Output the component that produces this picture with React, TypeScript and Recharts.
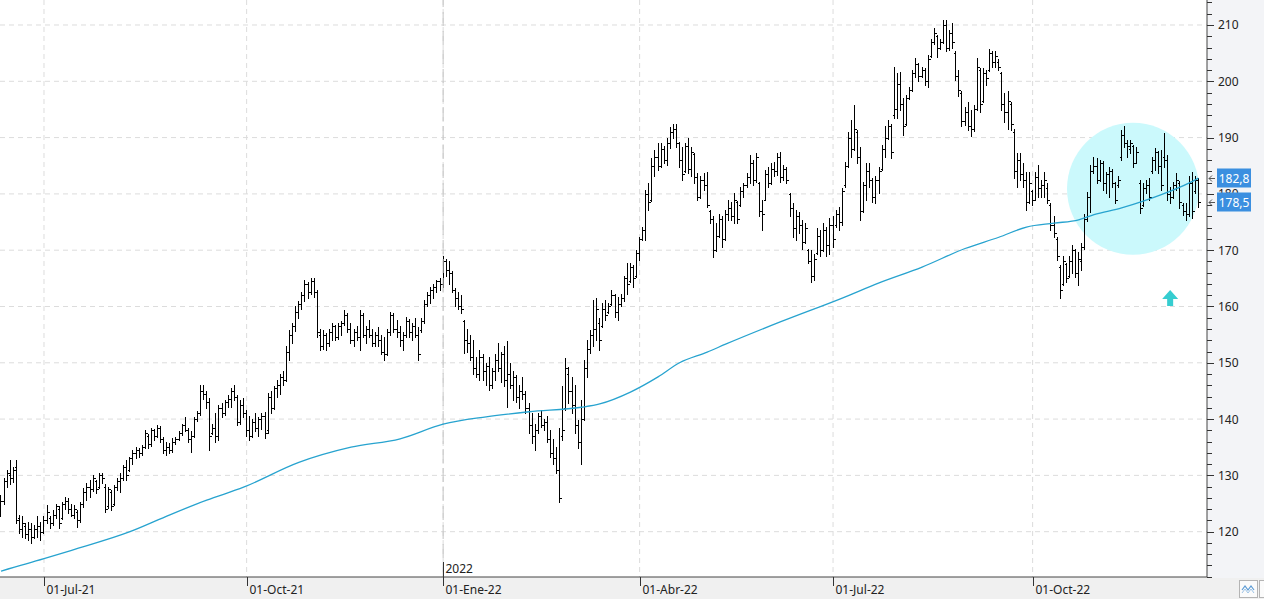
import React from "react";
import {
  ComposedChart,
  Bar,
  Line,
  XAxis,
  YAxis,
  CartesianGrid,
  ReferenceLine,
  ReferenceDot,
} from "recharts";

// daily OHLC, one value per trading day (Jun-2021 .. Dec-2022)
const opens = [
  123.5,125.5,129.0,130.0,129.5,131.5,122.5,120.5,121.0,119.5,
  120.5,119.0,120.5,121.0,120.0,122.0,122.5,121.5,123.0,124.0,
  122.5,125.0,125.5,124.0,123.0,123.5,122.0,125.0,127.0,128.0,
  127.5,129.0,128.0,130.0,128.0,124.5,127.0,125.0,128.0,129.0,
  129.5,131.5,131.0,133.0,134.0,134.5,134.0,135.0,137.0,135.5,
  138.0,137.0,138.5,136.5,134.5,135.0,134.5,136.0,136.5,137.5,
  139.0,138.0,136.5,137.0,140.0,141.0,145.0,144.5,143.0,137.5,
  138.5,137.0,142.0,141.0,143.0,143.5,145.0,144.0,139.5,142.5,
  141.0,138.0,137.0,139.5,138.5,140.0,140.5,138.0,144.0,142.0,
  145.5,146.0,147.5,147.0,152.0,155.0,156.5,159.0,160.5,162.0,
  164.0,162.5,164.5,162.5,155.0,153.0,155.0,153.5,155.5,156.5,
  154.5,156.5,157.0,158.5,156.0,154.0,155.5,154.5,158.5,155.0,
  156.0,155.0,153.5,155.0,154.0,152.0,151.5,155.5,158.5,156.0,
  155.5,154.0,155.0,157.5,155.5,156.5,155.0,155.8,157.5,160.5,
  162.0,163.0,163.5,164.5,164.0,168.0,166.5,166.0,163.0,161.5,
  160.0,157.5,154.0,153.5,151.0,149.0,148.0,151.0,148.5,149.5,
  146.0,148.5,150.5,149.0,151.5,147.0,148.0,146.0,147.5,144.0,
  145.0,144.5,142.0,139.0,137.0,138.0,140.5,139.0,139.5,136.5,
  134.0,133.0,131.0,137.0,142.0,148.0,145.0,142.5,139.0,136.0,
  140.0,149.0,152.5,155.0,156.0,157.0,156.5,159.5,159.0,160.5,
  162.0,159.0,160.5,161.5,165.0,164.5,167.0,165.5,169.5,172.0,
  173.5,180.0,179.0,185.0,186.5,185.0,188.0,186.0,189.0,191.0,
  191.5,189.0,186.0,184.0,188.5,184.5,187.0,183.0,179.5,182.5,
  181.5,177.0,175.5,170.0,172.5,175.5,172.0,176.5,177.5,176.0,
  178.5,178.0,180.5,181.5,183.0,185.5,182.5,182.0,177.0,179.0,
  183.5,182.0,184.5,184.0,186.5,183.0,184.5,180.0,177.5,174.0,
  176.0,174.5,171.5,170.0,168.0,165.5,169.5,172.5,170.0,173.5,
  171.0,174.5,174.5,176.5,175.0,181.5,185.0,190.0,188.0,191.0,
  186.5,177.0,181.5,184.0,182.5,179.5,182.5,184.5,188.0,190.0,
  192.0,194.0,195.0,199.5,196.0,192.5,197.0,198.5,201.5,203.0,
  201.0,202.0,200.0,204.5,207.0,208.0,206.0,207.0,210.0,206.0,
  208.5,205.0,201.0,198.0,193.0,194.5,192.0,191.5,195.0,202.0,
  196.5,201.5,202.0,205.0,203.5,203.5,201.5,196.0,194.5,196.0,
  191.0,184.0,186.0,183.5,182.5,178.5,180.5,179.0,183.0,181.0,
  181.5,181.0,178.0,174.5,172.0,167.0,164.0,167.5,165.5,168.0,
  170.0,166.0,168.0,170.5,175.5,179.5,184.0,185.0,182.5,185.5,
  182.0,183.5,184.0,182.0,181.5,186.5,190.5,189.0,188.0,188.5,
  185.5,182.0,178.0,181.0,181.5,184.0,186.0,187.5,185.0,186.5,
  186.0,180.0,179.5,181.5,182.0,178.0,177.0,176.5,182.0,180.5,
  182.5,
];

const highs = [
  126.5,129.5,131.0,132.7,131.5,132.7,123.0,122.7,121.5,121.8,
  121.5,121.2,122.7,121.8,122.7,124.7,122.7,123.8,125.0,124.5,
  125.3,126.2,126.0,125.0,124.7,123.8,125.3,127.7,128.6,129.2,
  130.1,129.2,130.4,130.4,128.5,128.0,127.4,128.3,129.5,130.4,
  131.8,132.7,133.3,134.5,135.1,134.8,135.4,138.1,137.4,138.4,
  138.3,139.0,138.8,136.8,136.0,135.7,136.6,136.9,137.8,139.2,
  140.4,138.4,137.8,140.4,141.5,146.0,146.0,144.9,143.7,139.2,
  141.0,142.5,142.8,143.4,144.3,145.5,146.0,144.3,143.4,143.7,
  141.6,140.5,140.0,141.0,140.4,141.0,141.2,144.6,145.0,145.8,
  147.0,148.0,148.5,152.9,155.8,157.0,160.0,161.0,162.5,164.7,
  164.3,165.0,165.0,163.0,156.0,155.8,155.3,156.0,157.0,156.8,
  157.0,157.5,159.4,158.8,157.0,156.0,156.5,159.4,158.8,156.5,
  157.6,156.0,155.5,156.4,155.0,154.5,156.0,159.1,158.8,157.6,
  156.5,155.5,158.2,157.8,157.0,158.0,156.4,158.0,161.2,162.5,
  163.5,164.0,164.7,165.0,168.9,168.5,168.0,166.3,163.3,162.5,
  162.0,157.6,156.0,155.0,154.0,151.0,152.3,151.5,150.0,151.0,
  149.0,151.5,153.5,152.0,153.0,153.8,150.0,148.5,147.8,146.0,
  147.5,145.0,142.8,141.0,139.2,141.0,141.6,140.0,140.5,138.0,
  136.5,135.1,138.4,145.8,150.8,149.3,147.5,146.0,139.8,143.4,
  150.5,154.0,155.8,161.2,161.5,158.0,160.6,161.2,160.6,162.9,
  162.3,161.7,162.3,165.5,167.7,167.7,167.3,170.0,172.4,174.2,
  180.7,181.9,186.3,187.8,189.0,189.0,188.5,189.9,191.9,192.5,
  192.5,189.3,188.4,189.0,189.9,188.4,187.3,183.7,183.1,183.7,
  183.9,177.1,176.0,174.8,176.5,176.0,177.1,178.9,178.6,180.1,
  178.8,181.3,181.9,183.7,186.9,186.0,187.2,182.2,178.9,184.2,
  184.8,185.4,185.7,187.2,187.5,185.1,184.8,180.1,178.3,177.1,
  176.8,175.4,174.8,170.3,170.0,169.4,173.9,173.6,174.8,174.2,
  175.7,176.0,177.1,177.7,181.0,185.7,191.0,193.1,195.8,191.4,
  188.4,182.2,185.4,185.4,182.8,183.1,184.8,188.7,192.0,193.1,
  192.5,202.6,201.4,201.7,197.0,197.6,199.0,202.0,204.1,203.2,
  202.6,202.3,204.7,207.6,209.4,208.2,207.6,210.9,210.9,209.1,
  210.4,205.3,202.0,198.2,195.5,196.4,194.9,195.8,204.1,202.3,
  202.3,202.0,205.7,205.3,205.3,204.0,201.7,197.9,198.2,196.4,
  191.6,187.2,187.2,185.4,183.9,183.9,180.7,183.9,185.1,182.5,
  183.9,181.9,178.3,176.0,172.4,167.4,168.9,167.7,168.9,171.0,
  170.3,169.7,171.2,176.5,180.4,185.1,186.6,186.3,186.0,185.8,
  183.9,184.8,184.5,182.2,183.1,191.4,192.1,189.6,189.6,188.7,
  188.4,182.5,181.9,182.5,182.8,186.6,188.1,187.6,187.8,190.8,
  186.9,181.3,182.2,183.7,182.3,178.3,178.3,183.1,183.9,183.1,
  182.8,
];

const lows = [
  122.8,125.0,128.0,128.5,128.8,121.5,119.7,119.1,118.8,118.5,
  118.0,118.8,119.1,118.5,119.7,121.5,120.6,121.2,122.4,120.6,
  122.2,124.0,123.3,122.7,122.4,120.9,121.8,124.4,125.6,126.2,
  127.2,126.8,127.7,128.6,123.5,124.2,123.8,124.8,127.4,127.1,
  129.2,129.2,130.8,132.1,133.0,133.3,133.6,134.8,134.8,135.2,
  136.3,136.9,136.0,133.9,133.6,133.9,134.2,135.5,136.3,137.2,
  137.8,136.0,134.2,136.9,139.6,140.8,143.5,142.0,134.5,137.3,
  136.0,136.3,140.4,140.8,142.2,142.2,143.4,139.0,139.2,140.4,
  137.0,136.3,136.8,137.8,137.0,138.3,136.6,137.6,141.0,141.8,
  144.0,144.5,146.0,146.7,150.5,153.5,155.6,158.0,159.6,161.0,
  161.5,162.3,161.7,154.6,152.3,152.5,152.3,153.0,154.0,154.0,
  154.2,155.0,156.8,155.5,153.5,152.9,154.0,152.3,154.5,153.5,
  154.5,152.9,153.0,153.0,151.5,150.5,151.3,155.0,155.5,154.6,
  153.0,152.3,154.5,154.5,154.0,154.5,150.5,155.5,157.0,160.0,
  160.6,161.5,162.5,163.0,163.5,165.5,164.0,162.5,160.0,159.5,
  158.8,151.7,152.0,150.5,148.0,147.5,147.0,147.0,146.0,145.2,
  145.5,147.0,148.5,146.5,145.8,142.2,145.5,143.4,143.0,142.0,
  143.5,141.0,137.5,135.7,134.5,137.5,138.6,138.0,136.0,133.3,
  132.0,130.4,125.3,136.3,141.6,142.8,141.0,137.5,134.8,132.1,
  139.8,147.5,151.7,152.9,154.0,152.3,156.4,157.6,158.8,160.3,
  158.2,157.6,160.0,161.0,162.3,164.3,163.5,165.3,168.3,171.8,
  171.8,177.1,178.8,183.1,184.2,184.8,185.5,185.1,188.1,189.9,
  188.4,184.8,182.5,183.8,183.7,183.1,182.0,178.9,179.3,180.7,
  177.7,174.8,168.8,169.8,172.3,170.6,171.8,175.4,175.4,174.8,
  174.8,177.8,179.5,181.3,181.9,181.6,182.2,176.0,173.6,178.9,
  181.3,181.8,183.1,183.4,182.2,182.5,181.9,176.0,172.4,171.8,
  173.0,170.3,171.3,167.7,164.4,164.7,169.4,168.9,169.8,168.9,
  169.4,170.6,174.2,173.6,174.5,181.3,184.8,186.6,187.8,185.4,
  175.4,176.8,178.9,181.3,178.6,178.3,180.1,184.3,186.6,189.8,
  186.3,193.4,193.4,194.9,190.5,192.3,196.8,198.3,200.8,200.0,
  200.8,199.3,199.0,204.3,206.7,204.4,205.8,206.8,205.3,205.6,
  206.0,200.2,197.3,192.0,192.2,191.4,190.2,191.2,194.9,194.6,
  196.4,199.3,201.8,202.6,202.6,202.0,194.9,192.8,191.6,191.4,
  182.8,181.3,182.5,181.3,177.1,178.3,178.0,178.9,179.5,179.5,
  179.5,178.3,173.6,172.4,168.3,161.5,163.8,164.4,165.3,165.9,
  165.3,163.8,166.5,170.3,175.1,176.8,183.7,181.9,182.3,180.7,
  180.1,179.5,181.3,178.3,181.3,186.0,188.4,186.6,187.2,184.8,
  185.4,176.6,177.8,180.1,178.9,183.7,184.2,183.7,180.7,184.8,
  178.9,178.3,179.3,180.7,177.5,176.2,175.4,176.0,175.7,180.1,
  177.7,
];

const closes = [
  125.5,129.0,130.5,129.5,131.0,122.0,120.5,121.5,119.5,120.5,
  119.0,120.5,121.0,120.0,122.0,123.5,121.5,123.0,124.5,121.5,
  125.0,125.5,124.0,123.0,124.0,122.0,125.0,127.0,128.0,127.5,
  129.5,127.5,130.0,129.5,124.0,127.5,124.5,128.0,129.0,129.5,
  131.5,130.0,133.0,134.0,134.5,134.0,135.0,137.5,135.5,138.0,
  137.0,138.5,136.5,134.5,135.0,134.5,136.0,136.5,137.5,139.0,
  138.0,136.5,137.0,140.0,141.0,145.0,144.5,143.0,137.0,138.5,
  137.0,142.0,141.0,143.0,143.5,145.0,144.0,139.5,142.5,141.0,
  138.0,137.0,139.5,138.5,140.0,140.5,137.5,144.0,142.0,145.5,
  146.0,147.5,147.0,152.0,155.0,156.5,159.0,160.5,162.0,164.0,
  162.5,164.5,162.5,155.5,153.0,155.0,153.5,155.5,156.5,154.5,
  156.5,157.0,158.5,156.0,154.0,155.5,154.5,158.5,155.0,156.0,
  155.0,153.5,155.0,154.0,152.0,151.5,155.5,158.5,156.0,155.5,
  154.0,155.0,157.5,155.5,156.5,155.0,151.5,157.5,160.5,162.0,
  163.0,163.5,164.5,164.0,168.0,166.5,166.0,163.0,161.5,160.0,
  159.5,154.0,153.5,151.0,149.0,148.0,151.0,148.5,149.5,146.0,
  148.5,150.5,149.0,151.5,147.0,148.0,146.0,147.5,144.0,145.0,
  144.5,142.0,139.0,137.0,138.0,140.5,139.0,139.5,136.5,134.0,
  133.0,131.0,126.0,138.0,149.0,145.0,142.5,139.0,136.0,140.0,
  149.0,152.5,155.0,156.0,159.5,154.0,159.5,158.5,160.0,162.0,
  159.0,160.5,161.5,165.0,164.0,167.0,165.0,169.5,172.0,173.5,
  180.0,178.5,185.0,186.5,185.0,188.0,186.0,189.0,191.0,191.5,
  189.0,186.0,183.5,188.5,184.5,187.5,183.0,179.5,182.5,181.5,
  178.0,175.5,170.0,172.5,175.5,172.0,176.5,177.5,176.0,179.0,
  175.5,180.5,181.5,183.0,185.5,182.5,186.5,177.0,176.5,183.5,
  182.0,184.5,184.0,186.5,183.0,184.5,182.5,177.5,174.0,176.0,
  174.5,171.5,174.0,168.0,165.5,168.5,172.5,170.0,173.5,171.0,
  174.5,172.0,176.5,175.0,180.5,185.0,190.0,188.0,191.5,186.5,
  177.0,181.5,184.0,182.5,179.5,182.5,184.0,188.0,190.0,192.0,
  187.5,195.0,199.5,196.0,192.0,197.0,198.5,201.5,203.0,201.0,
  202.0,200.0,204.0,207.0,208.5,206.0,207.0,210.0,206.0,208.5,
  207.0,201.0,198.5,193.0,194.5,192.0,191.5,195.0,202.5,196.0,
  201.5,200.5,205.0,203.5,204.5,202.5,196.0,194.5,196.5,192.5,
  184.0,186.0,183.5,182.5,178.5,182.0,179.0,183.0,181.0,181.5,
  182.5,179.0,174.5,173.0,169.0,163.0,168.0,165.0,168.0,170.0,
  166.0,168.5,170.5,175.5,179.5,184.0,185.0,182.5,185.5,182.0,
  183.5,184.0,182.0,179.0,182.5,190.5,189.0,188.5,189.0,185.5,
  187.5,177.5,181.0,181.5,179.5,186.0,187.5,185.0,181.5,186.0,
  180.0,179.5,181.5,182.5,178.5,177.0,176.5,182.0,177.0,182.5,
  178.5,
];

// 200-day moving average, read at these bar positions
const maIndex = [
  0, 14, 23, 42, 55, 67, 79, 97, 114, 130, 144, 158, 172, 189, 195, 205, 214,
  221, 230, 236, 254, 274, 286, 300, 314, 325, 334, 343, 351, 356, 365, 372,
  380, 389, 390,
];
const maValues = [
  113.0, 115.2, 116.7, 120.0, 123.0, 125.6, 127.9, 132.3, 135.0, 136.5, 139.1,
  140.4, 141.3, 142.1, 142.7, 144.8, 147.5, 150.0, 151.9, 153.3, 157.3, 161.5,
  164.2, 167.0, 170.3, 172.3, 174.1, 174.8, 175.4, 176.3, 177.5, 178.7, 180.3,
  182.5, 182.8,
];

const dateTickIndex = [14, 80, 144, 208, 271, 336];
const dateTickLabels = [
  "01-Jul-21",
  "01-Oct-21",
  "01-Ene-22",
  "01-Abr-22",
  "01-Jul-22",
  "01-Oct-22",
];
const yearMarkIndex = 144;
const yearMarkLabel = "2022";

const gridPrices = [120, 130, 140, 150, 160, 170, 180, 190, 200, 210];

// last values shown as flags on the price scale (MA 200 and last close)
const flagValues = [182.8, 178.5];
const flagLabels = ["182,8", "178,5"];

// scale ticks every 2; the flag values go last so they are drawn on top
const priceTicks: number[] = [];
for (let p = 112; p <= 214; p += 2) priceTicks.push(p);
const axisTicks = [...priceTicks, ...flagValues];

const FONT = "'Noto Sans', 'Open Sans', sans-serif";

const n = Math.min(opens.length, highs.length, lows.length, closes.length);
const rows: any[] = [];
for (let i = 0; i < n; i++) {
  rows.push({
    i,
    o: opens[i],
    h: highs[i],
    l: lows[i],
    c: closes[i],
    range: [lows[i], highs[i]],
    ma: null,
  });
}
maIndex.forEach((idx, k) => {
  if (rows[idx]) rows[idx].ma = maValues[k];
});

const OhlcShape = (props: any) => {
  const { x, y, width, height, payload } = props;
  if (x == null || y == null) return null;
  const top = Math.min(y, y + height);
  const bottom = Math.max(y, y + height);
  const span = payload.h - payload.l;
  const py = (v: number) =>
    Math.round(span ? top + ((payload.h - v) / span) * (bottom - top) : top) + 0.5;
  const cx = Math.floor(x + width / 2) + 0.5;
  return (
    <g stroke="#000" strokeWidth={1} shapeRendering="crispEdges">
      <line x1={cx} x2={cx} y1={Math.round(top)} y2={Math.round(bottom) + 1} />
      <line x1={cx - 2} x2={cx} y1={py(payload.o)} y2={py(payload.o)} />
      <line x1={cx} x2={cx + 2} y1={py(payload.c)} y2={py(payload.c)} />
    </g>
  );
};

const DateTick = (props: any) => {
  const { x, y, payload } = props;
  const k = dateTickIndex.indexOf(payload.value);
  const px = Math.round(x) + 0.5;
  return (
    <g>
      <line x1={px} x2={px} y1={y} y2={y + 9} stroke="#333" />
      <text x={px + 2} y={y + 17} fontSize={12} fill="#222" fontFamily={FONT}>
        {dateTickLabels[k]}
      </text>
    </g>
  );
};

const PriceTick = (props: any) => {
  const { x, y, payload } = props;
  const v = payload.value;
  const k = flagValues.indexOf(v);
  if (k >= 0) {
    const cy = Math.round(y) + 0.5;
    return (
      <g>
        <path
          d={`M${x + 8},${cy} L${x + 2},${cy} M${x + 5},${cy - 3} L${x + 2},${cy} L${x + 5},${cy + 3}`}
          stroke="#555"
          fill="none"
        />
        <rect x={x + 10} y={cy - 10} width={34} height={19} fill="#3b8fe0" />
        <text
          x={x + 27}
          y={cy + 4.5}
          textAnchor="middle"
          fontSize={12}
          fill="#fff"
          fontFamily={FONT}
        >
          {flagLabels[k]}
        </text>
      </g>
    );
  }
  const major = v % 10 === 0;
  const py = Math.round(y) + 0.5;
  return (
    <g>
      <line x1={x} x2={x + (major ? 7 : 5)} y1={py} y2={py} stroke="#333" />
      {major && (
        <text x={x + 11} y={y + 4.5} fontSize={12} fill="#222" fontFamily={FONT}>
          {v}
        </text>
      )}
    </g>
  );
};

const YearLabel = (props: any) => {
  const { viewBox } = props;
  if (!viewBox) return null;
  const px = Math.round(viewBox.x) + 0.5;
  const bottom = viewBox.y + viewBox.height;
  return (
    <g>
      <line x1={px} x2={px} y1={bottom - 15} y2={bottom} stroke="#333" />
      <text x={px + 2} y={bottom - 4} fontSize={12} fill="#222" fontFamily={FONT}>
        {yearMarkLabel}
      </text>
    </g>
  );
};

const UpArrow = (props: any) => {
  const { cx, cy } = props;
  if (cx == null) return null;
  return (
    <path
      d={`M${cx},${cy - 8} L${cx + 8},${cy + 1} L${cx + 3},${cy + 1} L${cx + 3},${cy + 8} L${cx - 3},${cy + 8} L${cx - 3},${cy + 1} L${cx - 8},${cy + 1} Z`}
      fill="#36cdd0"
    />
  );
};

const App: React.FC = () => {
  return (
    <div
      style={{
        position: "absolute",
        left: 0,
        top: 0,
        width: 1264,
        height: 599,
        background: "#f0f0f0",
        overflow: "hidden",
      }}
    >
      <div
        style={{
          position: "absolute",
          left: 1207,
          top: 0,
          width: 57,
          height: 578,
          background: "#f3f4f7",
        }}
      />
      <div style={{ position: "absolute", left: 0, top: 0 }}>
        <ComposedChart
          width={1264}
          height={599}
          data={rows}
          margin={{ top: 0, right: 0, bottom: 0, left: 0 }}
        >
          <CartesianGrid
            horizontalValues={gridPrices}
            verticalValues={dateTickIndex}
            stroke="#dcdcdc"
            strokeDasharray="5 4"
            fill="#ffffff"
          />
          <XAxis
            dataKey="i"
            type="number"
            domain={[-0.33, 392.8]}
            allowDataOverflow
            ticks={dateTickIndex}
            interval={0}
            height={22}
            tickSize={0}
            tickMargin={0}
            tickLine={false}
            tick={<DateTick />}
            axisLine={{ stroke: "#444" }}
          />
          <YAxis
            orientation="right"
            type="number"
            domain={[111.95, 214.44]}
            allowDataOverflow
            ticks={axisTicks}
            interval={0}
            width={57}
            tickSize={0}
            tickMargin={0}
            tickLine={false}
            tick={<PriceTick />}
            axisLine={{ stroke: "#444" }}
          />
          <ReferenceDot
            x={368.7}
            y={180.9}
            r={66}
            fill="#cbf9fc"
            stroke="none"
            zIndex={-50}
          />
          <ReferenceLine
            x={yearMarkIndex}
            stroke="#c4c4c4"
            strokeDasharray="14 5"
            label={<YearLabel />}
          />
          <Bar
            dataKey="range"
            barSize={3}
            shape={<OhlcShape />}
            isAnimationActive={false}
          />
          <Line
            dataKey="ma"
            type="monotone"
            stroke="#27a3cf"
            strokeWidth={1.3}
            dot={false}
            activeDot={false}
            connectNulls
            isAnimationActive={false}
          />
          <ReferenceDot x={380.8} y={161.5} r={8} shape={<UpArrow />} />
        </ComposedChart>
      </div>
      <div
        style={{
          position: "absolute",
          left: 1239,
          top: 580,
          width: 17,
          height: 16,
          border: "1px solid #b4b4b4",
          background: "#fbfbfb",
        }}
      >
        <svg width={17} height={16}>
          <polyline
            points="2,9 5,5 8,9 11,5 14,9"
            fill="none"
            stroke="#5b9bd5"
            strokeWidth={1.2}
          />
          <polyline
            points="2,12 5,8 8,12 11,8 14,12"
            fill="none"
            stroke="#9dc3e6"
            strokeWidth={1}
          />
        </svg>
      </div>
      <div
        style={{
          position: "absolute",
          left: 1259,
          top: 580,
          width: 12,
          height: 16,
          border: "1px solid #b4b4b4",
          background: "#fbfbfb",
        }}
      />
    </div>
  );
};

export default App;
